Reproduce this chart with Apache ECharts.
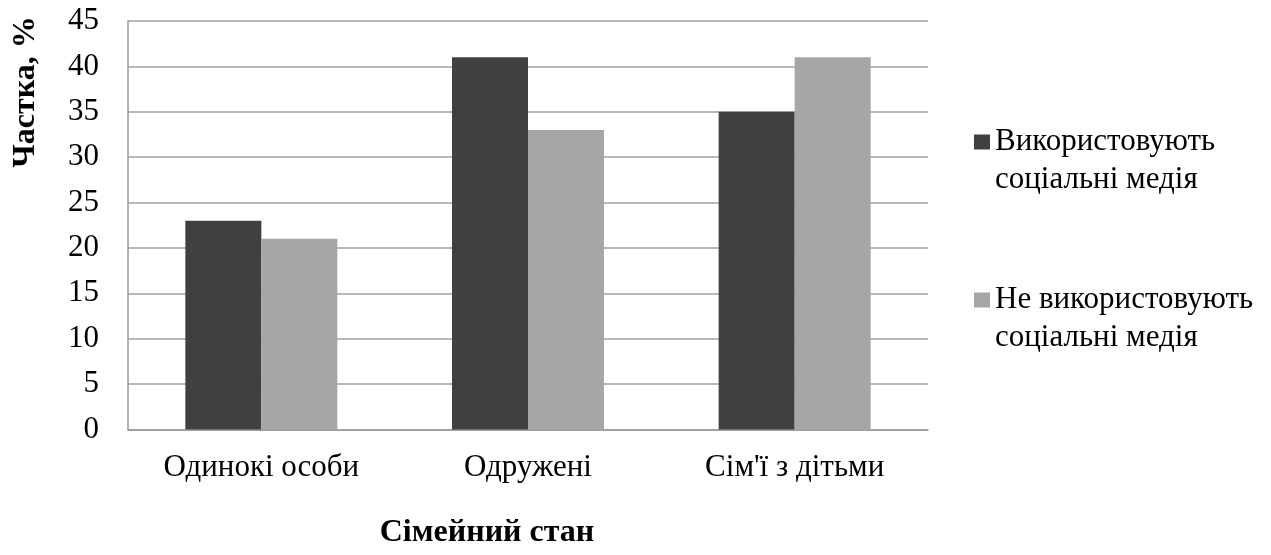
<!DOCTYPE html>
<html><head><meta charset="utf-8">
<script src="https://cdn.jsdelivr.net/npm/echarts@6/dist/echarts.min.js"></script>
<style>html,body{margin:0;padding:0;background:#fff}#c{width:1271px;height:555px}</style>
</head><body><div id="c"></div>
<script>
const categories = ['Одинокі особи', 'Одружені', "Сім'ї з дітьми"];
const seriesNames = ['Використовують\nсоціальні медія', 'Не використовують\nсоціальні медія'];
const usesSocial = [23, 41, 35];
const notUsesSocial = [21, 33, 41];
const yTicks = {min: 0, max: 45, interval: 5};
const yTitle = 'Частка, %';
const xTitle = 'Сімейний стан';

const FONT = '"Liberation Serif", "Times New Roman", serif';
const chart = echarts.init(document.getElementById('c'), null, {renderer: 'canvas'});
const LH = 38;
chart.setOption({
  animation: false,
  textStyle: {fontFamily: FONT, color: '#000'},
  grid: {left: 128, top: 21, width: 800, height: 408.5, containLabel: false},
  xAxis: {
    type: 'category', data: categories,
    axisLine: {lineStyle: {color: '#999', width: 1.5}},
    axisTick: {inside: true, length: 9, lineStyle: {color: '#999', width: 1.5}},
    axisLabel: {fontFamily: FONT, fontSize: 31, color: '#000', margin: 23}
  },
  yAxis: {
    type: 'value', min: yTicks.min, max: yTicks.max, interval: yTicks.interval,
    axisLine: {show: true, lineStyle: {color: '#999', width: 1.5}},
    axisTick: {show: false},
    splitLine: {lineStyle: {color: '#a0a0a0', width: 1.5}},
    axisLabel: {fontFamily: FONT, fontSize: 31, color: '#000', margin: 29}
  },
  legend: {
    orient: 'vertical', left: 969, top: 80,
    itemWidth: 16, itemHeight: 15, itemGap: 44, icon: 'rect',
    formatter: function (name) { return ' \n' + name; },
    textStyle: {fontFamily: FONT, fontSize: 31, color: '#000', lineHeight: LH},
    data: seriesNames
  },
  series: [
    {name: seriesNames[0], type: 'bar', data: usesSocial, barGap: '0%', barCategoryGap: '43%',
     itemStyle: {color: '#404040'}},
    {name: seriesNames[1], type: 'bar', data: notUsesSocial,
     itemStyle: {color: '#a6a6a6'}}
  ],
  graphic: [
    {type: 'text', x: 26, y: 92, rotation: Math.PI/2,
     style: {text: yTitle, fontFamily: FONT, fontSize: 32, fontWeight: 'bold', fill: '#000', align: 'center', verticalAlign: 'middle'}},
    {type: 'text', x: 487, y: 533,
     style: {text: xTitle, fontFamily: FONT, fontSize: 32, fontWeight: 'bold', fill: '#000', align: 'center', verticalAlign: 'middle'}}
  ]
});
</script></body></html>
